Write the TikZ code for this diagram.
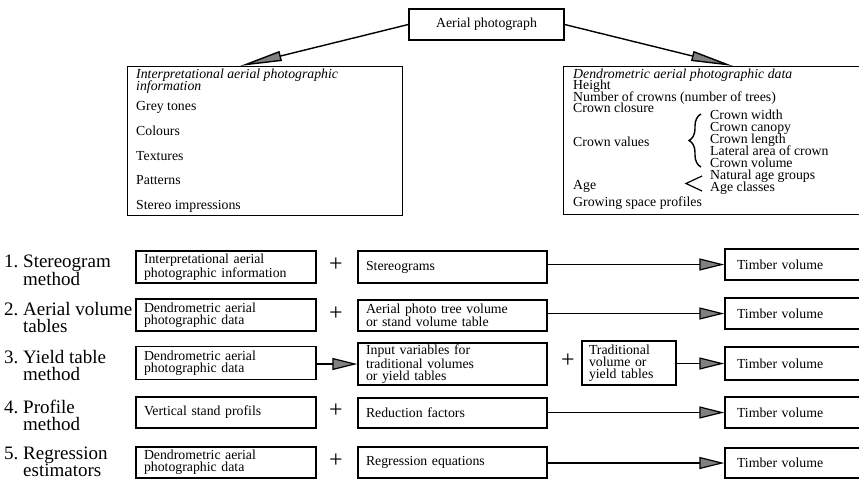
\documentclass[tikz,border=0pt]{standalone}
\usepackage{fontspec}
\setmainfont{Liberation Serif}
\usetikzlibrary{arrows.meta,decorations.pathreplacing}
\newcommand\fsb{\fontsize{13.8}{12}\selectfont}
\newcommand\fsl{\fontsize{19}{17}\selectfont}
\begin{document}
\begin{tikzpicture}[x=1pt,y=-1pt,
 box/.style={draw, line width=1.3pt, inner xsep=8pt, inner ysep=0pt, align=left, font=\fsb},
 bigbox/.style={draw, line width=1.3pt, inner sep=0pt, anchor=north west},
 txt/.style={inner sep=0pt, anchor=base west, font=\fsb},
 ttl/.style={inner sep=0pt, anchor=base west, font=\fsb\itshape},
 lbl/.style={inner sep=0pt, anchor=west, align=left, font=\fsl},
 plussign/.style={inner sep=0pt, font=\fontsize{24}{24}\selectfont},
 bigarrow/.style={line width=1.4pt, -{Triangle[length=42pt,width=10pt,fill=gray]}},
 arr/.style={line width=1.2pt, -{Triangle[length=25pt,width=12pt,fill=gray]}},
]
\useasboundingbox (0,0) rectangle (859,480);
\clip (0,0) rectangle (859,480);

% ---------- top part ----------
\node[box, align=center, minimum width=155pt, minimum height=31pt, inner xsep=0pt] (ap) at (486.5,24.5) {Aerial photograph};

\node[bigbox, minimum width=275pt, minimum height=149pt] (interp) at (127,66) {};
\node[bigbox, minimum width=320pt, minimum height=148pt] (dendro) at (563,66) {};

\coordinate (lt) at (240,66);
\coordinate (rt) at (733,66);
\draw[bigarrow] (ap.west) -- (lt);
\draw[bigarrow] (ap.east) -- (rt);

% left box content
\node[ttl] (i0) at (136,78.5) {Interpretational aerial photographic};
\node[ttl] (i1) at (136,90) {information};
\node[txt] (i2) at (136,110.5) {Grey tones};
\node[txt] (i3) at (136,135.5) {Colours};
\node[txt] (i4) at (136,160) {Textures};
\node[txt] (i5) at (136,184.5) {Patterns};
\node[txt] (i6) at (136,209) {Stereo impressions};

% right box content
\node[ttl] (d0) at (573,78) {Dendrometric aerial photographic data};
\node[txt] (d1) at (573,89.5) {Height};
\node[txt] (d2) at (573,101) {Number of crowns (number of trees)};
\node[txt] (d3) at (573,112.5) {Crown closure};
\node[txt] (d4) at (573,146) {Crown values};
\node[txt] (d5) at (573,189) {Age};
\node[txt] (d6) at (573,206) {Growing space profiles};
\node[txt] (c1) at (710,119) {Crown width};
\node[txt] (c2) at (710,131) {Crown canopy};
\node[txt] (c3) at (710,143) {Crown length};
\node[txt] (c4) at (710,155) {Lateral area of crown};
\node[txt] (c5) at (710,167) {Crown volume};
\node[txt] (g1) at (710,179.5) {Natural age groups};
\node[txt] (g2) at (710,191.5) {Age classes};
\draw[line width=1.4pt, decorate, decoration={brace, amplitude=12pt, aspect=0.5}] (701,167) -- (701,114);
\draw[line width=1.2pt] (702,176) -- (686,183.5) -- (702,191);

% ---------- rows ----------
% row labels
\node[lbl] (l1) at (4,270) {1.~Stereogram\\\phantom{1.~}method};
\node[lbl] (l2) at (4,318) {2.~Aerial volume\\\phantom{2.~}tables};
\node[lbl] (l3) at (4,366) {3.~Yield table\\\phantom{3.~}method};
\node[lbl] (l4) at (4,415) {4.~Profile\\\phantom{4.~}method};
\node[lbl] (l5) at (4,462) {5.~Regression\\\phantom{5.~}estimators};

% column A
\node[box, text width=164pt, minimum height=32pt] (a1) at (226,267) {Interpretational aerial\\photographic information};
\node[box, text width=164pt, minimum height=32pt] (a2) at (226,315) {Dendrometric aerial\\photographic data};
\node[box, text width=164pt, minimum height=33pt] (a3) at (226,363) {Dendrometric aerial\\photographic data};
\node[box, text width=164pt, minimum height=31pt] (a4) at (226,412.5) {Vertical stand profils};
\node[box, text width=164pt, minimum height=31pt] (a5) at (226,462.5) {Dendrometric aerial\\photographic data};

% plus signs
\node[plussign] (p1) at (336,265) {+};
\node[plussign] (p2) at (336,314) {+};
\node[plussign] (p3) at (568,361) {+};
\node[plussign] (p4) at (336,411) {+};
\node[plussign] (p5) at (336,461) {+};

% column B
\node[box, text width=173pt, minimum height=32pt] (b1) at (452.5,267) {Stereograms};
\node[box, text width=173pt, minimum height=31pt] (b2) at (452.5,315.5) {Aerial photo tree volume\\or stand volume table};
\node[box, text width=173pt, minimum height=42pt] (b3) at (452.5,364) {Input variables for\\traditional volumes\\or yield tables};
\node[box, text width=173pt, minimum height=30pt] (b4) at (452.5,413) {Reduction factors};
\node[box, text width=173pt, minimum height=31pt] (b5) at (452.5,462.5) {Regression equations};

% traditional tables
\node[box, text width=80pt, minimum height=44pt, inner xsep=7pt] (tr) at (629,363) {Traditional\\volume or\\yield tables};

% timber volume
\node[box, text width=136pt, minimum height=31pt, inner xsep=12pt] (t1) at (805,264.5) {Timber volume};
\node[box, text width=136pt, minimum height=31pt, inner xsep=12pt] (t2) at (805,313.5) {Timber volume};
\node[box, text width=136pt, minimum height=33pt, inner xsep=12pt] (t3) at (805,363.5) {Timber volume};
\node[box, text width=136pt, minimum height=31pt, inner xsep=12pt] (t4) at (805,412.5) {Timber volume};
\node[box, text width=136pt, minimum height=30pt, inner xsep=12pt] (t5) at (805,463) {Timber volume};

% connectors
\draw[arr] (b1.east |- t1.west) -- (t1.west);
\draw[arr] (b2.east |- t2.west) -- (t2.west);
\draw[arr] (a3.east |- b3.west) -- (b3.west);
\draw[arr] (tr.east |- t3.west) -- (t3.west);
\draw[arr] (b4.east |- t4.west) -- (t4.west);
\draw[arr] (b5.east |- t5.west) -- (t5.west);
\end{tikzpicture}
\end{document}
